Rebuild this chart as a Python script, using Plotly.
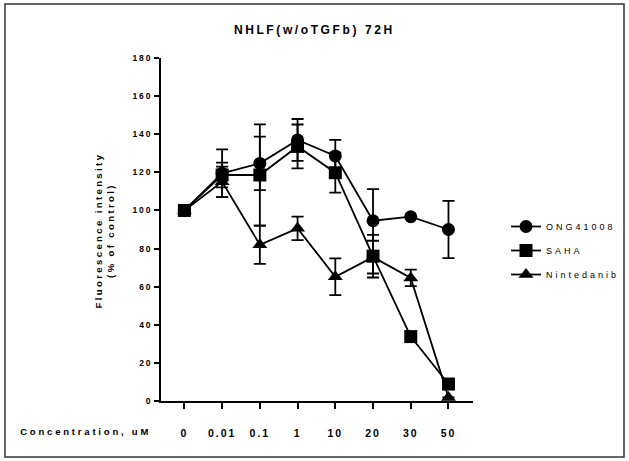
import plotly.graph_objects as go

categories = ["0", "0.01", "0.1", "1", "10", "20", "30", "50"]
ong = [100, 119.5, 124.7, 137, 128.6, 94.6, 96.7, 90]
ong_err = [None, 12.5, 14, 11, 8.4, 16.6, None, 15]
saha = [100, 118.6, 118.6, 133.6, 119.8, 76, 33.8, 8.9]
saha_err = [None, 6.5, 26.6, 11.5, 10.5, 11.2, None, None]
nint = [100, 115, 82, 90.6, 65.2, 75.5, 64.6, 1.9]
nint_err = [None, 8, 10, 6.2, 9.6, 8.6, 4.3, None]

FONT = "Liberation Sans, Arial, sans-serif"

fig = go.Figure()

def add(name, y, err, symbol, size, rank):
    fig.add_trace(go.Scatter(
        x=categories, y=y, name=name, mode="lines+markers",
        legendgroup=name,
        line=dict(color="black", width=1.8),
        marker=dict(symbol=symbol, size=size, color="black", line=dict(width=0)),
        error_y=dict(type="data", array=err, visible=True, color="black",
                     thickness=1.8, width=6),
        legendrank=rank,
    ))

add("Nintedanib", nint, nint_err, "triangle-up", 13, 3)
add("ONG41008", ong, ong_err, "circle", 13, 1)
add("SAHA", saha, saha_err, "square", 13, 2)

L, R, T, B = 161, 473, 58, 401
W, H = 629, 461
pw, ph = R - L, B - T

def px(xp):
    return (xp - L) / pw

def py(yp):
    return (B - yp) / ph

fig.update_layout(
    width=W, height=H,
    margin=dict(l=L, r=W - R, t=T, b=H - B, pad=0),
    paper_bgcolor="white", plot_bgcolor="white",
    font=dict(family=FONT, color="black"),
    showlegend=True,
    legend=dict(x=px(506), y=py(212), xanchor="left", yanchor="top",
                font=dict(size=9, family=FONT, color="black"),
                bgcolor="rgba(0,0,0,0)", traceorder="grouped",
                itemwidth=30, tracegroupgap=5),
    xaxis=dict(type="category", range=[-0.62, 7.65], showline=True,
               linecolor="black", linewidth=2.2, ticks="outside", ticklen=6,
               tickwidth=2, tickcolor="black", showgrid=False, zeroline=False,
               tickfont=dict(size=10.5, family=FONT, weight="bold"),
               ticklabelstandoff=15),
    yaxis=dict(range=[0, 180], tickvals=[0, 20, 40, 60, 80, 100, 120, 140, 160, 180],
               showline=True, linecolor="black", linewidth=2.2, ticks="outside",
               ticklen=5, tickwidth=2, tickcolor="black", showgrid=False,
               zeroline=False, tickfont=dict(size=8.5, family=FONT, weight="bold")),
    annotations=[
        dict(text="NHLF(w/oTGFb) 72H", xref="paper", yref="paper",
             x=px(314), y=py(30), xanchor="center", yanchor="middle",
             showarrow=False, font=dict(size=12, family=FONT, weight="bold")),
        dict(text="Concentration, uM", xref="paper", yref="paper",
             x=px(85), y=py(431), xanchor="center", yanchor="middle",
             showarrow=False, font=dict(size=9.5, family=FONT, weight="bold")),
        dict(text="Fluorescence intensity<br>(% of control)", xref="paper", yref="paper",
             x=px(104), y=py(230), xanchor="center", yanchor="middle",
             textangle=-90, showarrow=False,
             font=dict(size=9.5, family=FONT, weight="bold")),
    ],
    shapes=[dict(type="rect", xref="paper", yref="paper", layer="above",
                 x0=px(5), x1=px(624), y0=py(457), y1=py(4),
                 line=dict(color="#333333", width=1.5))],
)

post = """
document.documentElement.style.margin = '0';
document.body.style.margin = '0';
document.body.style.padding = '0';
var gd = document.getElementById('{plot_id}');
function sp(sel, v){ gd.querySelectorAll(sel).forEach(function(e){ e.style.letterSpacing = v; }); }
sp('.xtick text', '2px');
sp('.ytick text', '1.8px');
sp('.legendtext', '3px');
var ann = gd.querySelectorAll('.annotation-text');
var spacing = ['2.6px', '2.8px', '2.4px'];
ann.forEach(function(e, i){ e.style.letterSpacing = spacing[i] || '2.4px'; });
gd.querySelectorAll('.legend [clip-path]').forEach(function(e){ e.removeAttribute('clip-path'); });
"""

fig.write_html("out.html", post_script=post, config={"displayModeBar": False})
